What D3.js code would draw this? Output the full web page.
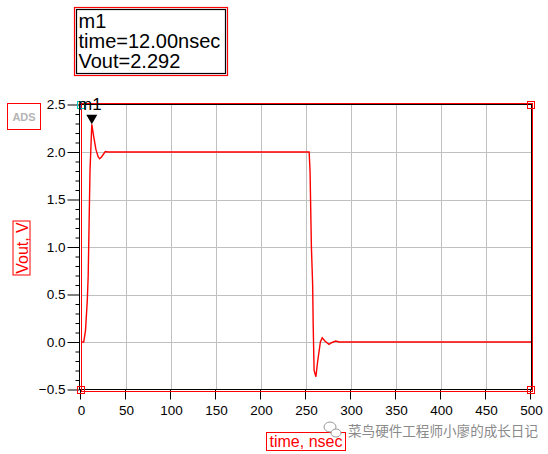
<!DOCTYPE html>
<html><head><meta charset="utf-8">
<script src="https://cdn.jsdelivr.net/npm/d3@7"></script>
<style>body{margin:0;background:#fff}svg{display:block}</style>
</head><body>
<script>
// data
const timeNs = [0,3,5,7,8,10,12,14,16.5,19,20.7,23,27,30,250,253.5,254.5,256,257.4,258,259,261,263,266,268,271,275.5,279,283,287,500];
const vout   = [0,0,0.12,0.44,0.7,1.8,2.292,2.17,2.03,1.95,1.93,1.95,2.005,2.0,2.0,2.0,1.8,1.0,0.6,0.17,-0.3,-0.366,-0.2,0,0.045,0.01,-0.025,-0.005,0.01,0,0];
const xTicks = [0,50,100,150,200,250,300,350,400,450,500];
const yTicks = [-0.5,0.0,0.5,1.0,1.5,2.0,2.5];
const markerName = "m1", markerTime = 12, markerVal = 2.292;

const W=548,H=454;
const svg=d3.select("body").append("svg").attr("width",W).attr("height",H);
const x=d3.scaleLinear().domain([0,500]).range([81,531]);
const y=d3.scaleLinear().domain([-0.5,2.5]).range([389.5,104.5]);
const FONT="'Liberation Sans', Arial, sans-serif";

// grid
svg.append("g").selectAll("line").data(xTicks.slice(1,-1)).join("line")
  .attr("x1",d=>Math.round(x(d))+0.5).attr("x2",d=>Math.round(x(d))+0.5)
  .attr("y1",y(2.5)).attr("y2",y(-0.5)).attr("stroke","#c0c0c0");
svg.append("g").selectAll("line").data(yTicks.slice(1,-1)).join("line")
  .attr("y1",d=>Math.round(y(d))+0.5).attr("y2",d=>Math.round(y(d))+0.5)
  .attr("x1",x(0)).attr("x2",x(500)).attr("stroke","#c0c0c0");

// axes (black)
const yAxis=d3.axisLeft(y).tickValues(yTicks).tickFormat(d3.format(".1f")).tickSize(12).tickPadding(2);
const gy=svg.append("g").attr("transform","translate(79.5,0)").call(yAxis);
gy.select(".domain").remove();
svg.append("g").attr("transform","translate(79.5,0)")
  .call(d3.axisLeft(y).tickValues(d3.range(-0.4,2.5,0.1).filter(v=>Math.abs(v*2-Math.round(v*2))>0.01)).tickSize(4).tickFormat(""))
  .select(".domain").remove();
const xAxis=d3.axisBottom(x).tickValues(xTicks).tickSize(10).tickPadding(6);
const gx=svg.append("g").attr("transform","translate(0,389.5)").call(xAxis);
gx.select(".domain").remove();
[gx,gy].forEach(g=>{g.selectAll("text").attr("font-family",FONT).attr("font-size","13.5px").attr("fill","#000");
  g.selectAll("line").attr("stroke","#000");});
gx.selectAll(".tick line").attr("transform","translate(-1,0)");
// black frame
svg.append("rect").attr("x",79.5).attr("y",104.5).attr("width",452).attr("height",285)
  .attr("fill","none").attr("stroke","#000");
// red frame
svg.append("rect").attr("x",81.5).attr("y",103.5).attr("width",451).attr("height",288)
  .attr("fill","none").attr("stroke","#ff0000");
// corner squares
[[81,390],[531,390],[531,105]].forEach(([cx,cy])=>{
  svg.append("rect").attr("x",cx-3.5).attr("y",cy-3.5).attr("width",7).attr("height",7)
    .attr("fill","none").attr("stroke","#ff0000");
});
svg.append("rect").attr("x",77.5).attr("y",101.5).attr("width",7).attr("height",7)
  .attr("fill","none").attr("stroke","#00c8c8");

// data line
const pts=timeNs.map((t,i)=>[t,vout[i]]);
svg.append("path").datum(pts).attr("fill","none").attr("stroke","#ff0000").attr("stroke-width",1.4)
  .attr("d",d3.line().x(d=>x(d[0])).y(d=>y(d[1])));

// marker triangle
const mx=x(markerTime), my=y(markerVal);
svg.append("path").attr("d",`M${mx-5.5},${my-9.5} L${mx+5.5},${my-9.5} L${mx},${my} Z`).attr("fill","#000");
svg.append("text").attr("x",78).attr("y",110).attr("font-family",FONT).attr("font-size","17px")
  .attr("fill","#000").text(markerName);

// marker readout box
svg.append("rect").attr("x",74.5).attr("y",7.5).attr("width",153).attr("height",68)
  .attr("fill","#fff").attr("stroke","#ff0000").attr("stroke-width",1.2);
svg.append("rect").attr("x",76.5).attr("y",9.5).attr("width",149).attr("height",64)
  .attr("fill","none").attr("stroke","#000").attr("stroke-width",1.2);
const lines=[markerName,`time=${markerTime.toFixed(2)}nsec`,`Vout=${markerVal.toFixed(3)}`];
svg.append("g").selectAll("text").data(lines).join("text")
  .attr("x",78.5).attr("y",(d,i)=>28+i*19.8).attr("font-family",FONT).attr("font-size","20px")
  .attr("fill","#000").text(d=>d);

// ADS box
svg.append("rect").attr("x",7.5).attr("y",103.5).attr("width",33).attr("height",26)
  .attr("fill","none").attr("stroke","#ff0000");
svg.append("text").attr("x",24).attr("y",121).attr("text-anchor","middle").attr("font-family",FONT)
  .attr("font-size","11px").attr("font-weight","bold").attr("fill","#b4b4b4").text("ADS");

// y label
const yl=svg.append("g").attr("transform","translate(21.5,248) rotate(-90)");
yl.append("rect").attr("x",-27).attr("y",-8.5).attr("width",54).attr("height",17)
  .attr("fill","none").attr("stroke","#ff0000");
yl.append("text").attr("text-anchor","middle").attr("y",6).attr("font-family",FONT)
  .attr("font-size","16px").attr("fill","#ff0000").text("Vout, V");

// x label
svg.append("rect").attr("x",266.5).attr("y",432.5).attr("width",79).attr("height",18)
  .attr("fill","none").attr("stroke","#ff0000");
svg.append("text").attr("x",306).attr("y",447).attr("text-anchor","middle").attr("font-family",FONT)
  .attr("font-size","16px").attr("fill","#ff0000").text("time, nsec");

// watermark
const wm=svg.append("g").attr("transform","translate(333,430)");
wm.append("ellipse").attr("cx",-3).attr("cy",-3).attr("rx",6).attr("ry",5).attr("fill","none").attr("stroke","#999").attr("stroke-width",1);
wm.append("ellipse").attr("cx",3).attr("cy",3).attr("rx",5).attr("ry",4).attr("fill","#fff").attr("stroke","#999").attr("stroke-width",1);
svg.append("text").attr("x",348).attr("y",436).attr("font-family","'Noto Sans CJK SC', sans-serif")
  .attr("font-size","13.5px").attr("textLength",190).attr("lengthAdjust","spacingAndGlyphs")
  .attr("fill","#8a8a8a").text("菜鸟硬件工程师小廖的成长日记");
</script>
</body></html>
